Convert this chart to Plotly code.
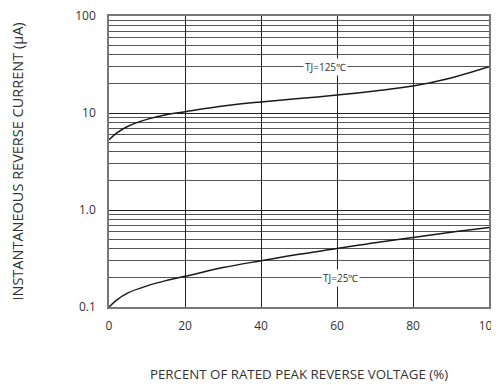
import math
import plotly.graph_objects as go

# Data
x_125 = [0, 2, 5, 10, 15, 20, 30, 40, 50, 60, 70, 80, 90, 100]
y_125 = [5.3, 6.2, 7.3, 8.6, 9.6, 10.3, 11.8, 13.0, 14.1, 15.3, 16.9, 19.0, 23.0, 30.0]
x_25 = [0, 2, 5, 10, 15, 20, 30, 40, 50, 60, 70, 80, 90, 100]
y_25 = [0.10, 0.118, 0.14, 0.165, 0.187, 0.207, 0.255, 0.30, 0.35, 0.40, 0.46, 0.52, 0.59, 0.66]

x_ticks = [0, 20, 40, 60, 80, 100]
y_ticks = [0.1, 1, 10, 100]
y_tick_text = ["0.1", "1.0", "10", "100"]
y_minor = [m * d for d in (0.1, 1, 10) for m in range(2, 10)]

label_125 = dict(x=57, y=30, text="TJ=125℃")
label_25 = dict(x=61, y=0.2, text="TJ=25℃")

font = "Open Sans"

fig = go.Figure()
fig.add_trace(go.Scatter(x=x_125, y=y_125, mode="lines",
                         line=dict(color="#1a1a1a", width=1.5, shape="spline", smoothing=1)))
fig.add_trace(go.Scatter(x=x_25, y=y_25, mode="lines",
                         line=dict(color="#1a1a1a", width=1.5, shape="spline", smoothing=1)))

for lab in (label_125, label_25):
    fig.add_annotation(x=lab["x"], y=math.log10(lab["y"]), yref="y", xref="x",
                       text=lab["text"], showarrow=False, bgcolor="white",
                       font=dict(family=font, size=10, color="#333"),
                       borderpad=1)

# page body has an 8px default margin, so the figure is sized to fit the window
fig.update_layout(
    width=492, height=377,
    margin=dict(l=101, r=11, t=8, b=78),
    paper_bgcolor="white", plot_bgcolor="white",
    showlegend=False,
    font=dict(family=font, size=12, color="#333"),
)
fig.update_xaxes(
    range=[0, 100], tickvals=x_ticks, showgrid=True, gridcolor="#222", gridwidth=1,
    showline=True, linecolor="#777", linewidth=1.5, mirror=True, ticks="",
    zeroline=False, automargin=False, ticklabeloverflow="allow",
    title=dict(text="PERCENT OF RATED PEAK REVERSE VOLTAGE (%)", font=dict(size=13.3), standoff=37),
    tickfont=dict(size=12), ticklabelstandoff=7,
)
fig.update_yaxes(
    type="log", range=[-1, 2], tickvals=y_ticks, ticktext=y_tick_text,
    showgrid=True, gridcolor="#222", gridwidth=1,
    minor=dict(tickvals=y_minor, showgrid=True, gridcolor="#555", gridwidth=1, ticks=""),
    showline=True, linecolor="#777", linewidth=1.5, mirror=True, ticks="",
    automargin=False, ticklabeloverflow="allow",
    title=dict(text="INSTANTANEOUS REVERSE CURRENT (µA)", font=dict(size=14.5), standoff=51),
    tickfont=dict(size=12), ticklabelstandoff=9,
)

fig.write_html("out.html")
